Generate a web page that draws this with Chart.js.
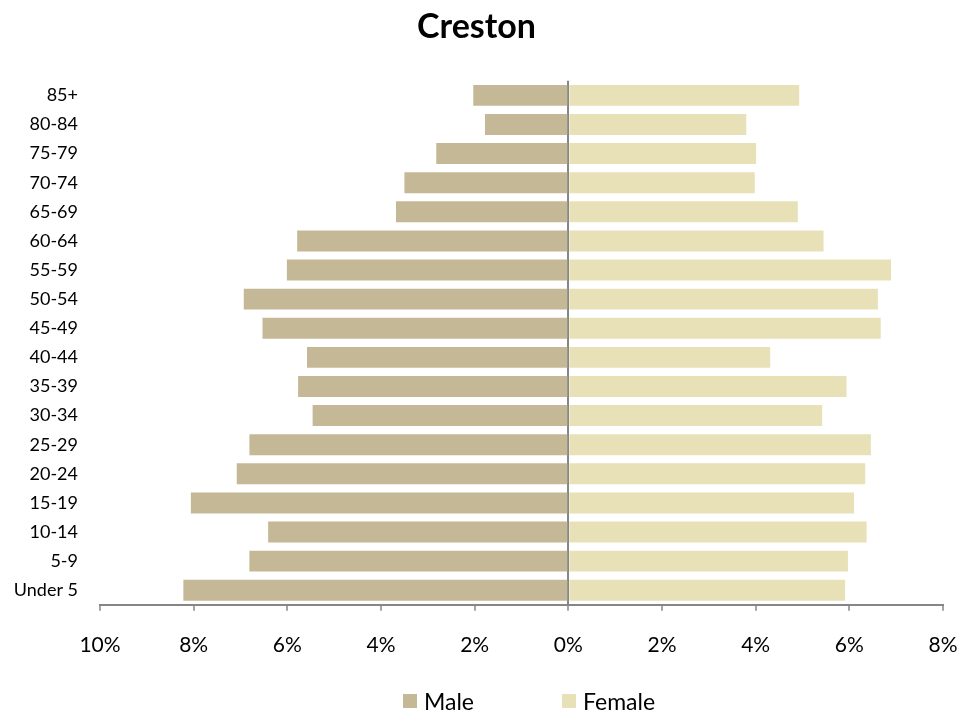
<!DOCTYPE html>
<html>
<head>
<meta charset="utf-8">
<script src="https://cdn.jsdelivr.net/npm/chart.js@4/dist/chart.umd.min.js"></script>
<style>
  html, body { margin: 0; padding: 0; background: #fff; }
  #wrap { position: relative; width: 959px; height: 711px; }
  #legend {
    position: absolute; left: 403px; top: 686px; height: 30px;
    display: flex; align-items: center;
    font-family: Lato, "Noto Sans", sans-serif; font-size: 23px; color: #000;
  }
  #legend .item { display: flex; align-items: center; width: 159px; }
  #legend .box { width: 14px; height: 14px; margin-right: 7px; }
</style>
</head>
<body>
<div id="wrap">
  <canvas id="js-chart-pyramid" width="959" height="711"></canvas>
  <div id="legend"></div>
</div>
<script>
// Age groups, top to bottom
const ageGroups = ["85+", "80-84", "75-79", "70-74", "65-69", "60-64", "55-59", "50-54", "45-49",
  "40-44", "35-39", "30-34", "25-29", "20-24", "15-19", "10-14", "5-9", "Under 5"];

// Share of population (%)
const malePct = [2.03, 1.78, 2.82, 3.50, 3.68, 5.79, 6.01, 6.93, 6.53,
  5.58, 5.77, 5.46, 6.81, 7.08, 8.06, 6.41, 6.81, 8.22];
const femalePct = [4.93, 3.80, 4.01, 3.98, 4.90, 5.45, 6.89, 6.61, 6.67,
  4.31, 5.94, 5.42, 6.46, 6.34, 6.10, 6.37, 5.97, 5.91];

// Axis range and ticks
const xMin = -10;
const xMax = 8;
const xStep = 2;

const fontFamily = "Lato, 'Noto Sans', sans-serif";
const axisGray = "#868686";

const chartCon = document.getElementById("js-chart-pyramid");

const chart = new Chart(chartCon, {
  type: "bar",
  data: {
    labels: ageGroups,
    datasets: [
      {
        label: "Male",
        backgroundColor: "#c4b896",
        borderWidth: 0,
        data: malePct.map((v) => -v),
      },
      {
        label: "Female",
        backgroundColor: "#e8e1b8",
        borderWidth: 0,
        data: femalePct,
      },
    ],
  },
  options: {
    indexAxis: "y",
    responsive: false,
    animation: false,
    layout: {
      padding: { left: 10, right: 16, top: 0, bottom: 31 },
    },
    datasets: {
      bar: { categoryPercentage: 1, barPercentage: 0.72 },
    },
    scales: {
      x: {
        stacked: true,
        min: xMin,
        max: xMax,
        grid: {
          drawOnChartArea: true,
          color: (ctx) => (ctx.tick && ctx.tick.value === 0 ? axisGray : "rgba(0,0,0,0)"),
          lineWidth: 2,
          tickColor: axisGray,
          tickLength: 6,
          tickWidth: 1.5,
        },
        border: { display: true, color: axisGray, width: 2 },
        afterFit: (scale) => {
          scale.paddingLeft = 0;
          scale.paddingRight = 0;
        },
        ticks: {
          stepSize: xStep,
          padding: 22,
          color: "#000",
          font: { family: fontFamily, size: 21 },
          callback: (value) => Math.abs(value) + "%",
        },
      },
      y: {
        stacked: true,
        grid: { display: false, drawTicks: false },
        border: { display: false },
        afterFit: (scale) => {
          scale.width = 90;
        },
        ticks: {
          padding: 22,
          color: "#000",
          font: { family: fontFamily, size: 18 },
        },
      },
    },
    plugins: {
      legend: { display: false },
      tooltip: { enabled: false },
      title: {
        display: true,
        text: "Creston",
        color: "#000",
        font: { family: fontFamily, size: 34, weight: "bold" },
        padding: { top: 7, bottom: 33 },
      },
    },
  },
});

// Build legend from chart datasets
const legendCon = document.getElementById("legend");
chart.data.datasets.forEach((ds) => {
  const item = document.createElement("div");
  item.className = "item";
  const box = document.createElement("span");
  box.className = "box";
  box.style.background = ds.backgroundColor;
  const txt = document.createElement("span");
  txt.textContent = ds.label;
  item.appendChild(box);
  item.appendChild(txt);
  legendCon.appendChild(item);
});
</script>
</body>
</html>
